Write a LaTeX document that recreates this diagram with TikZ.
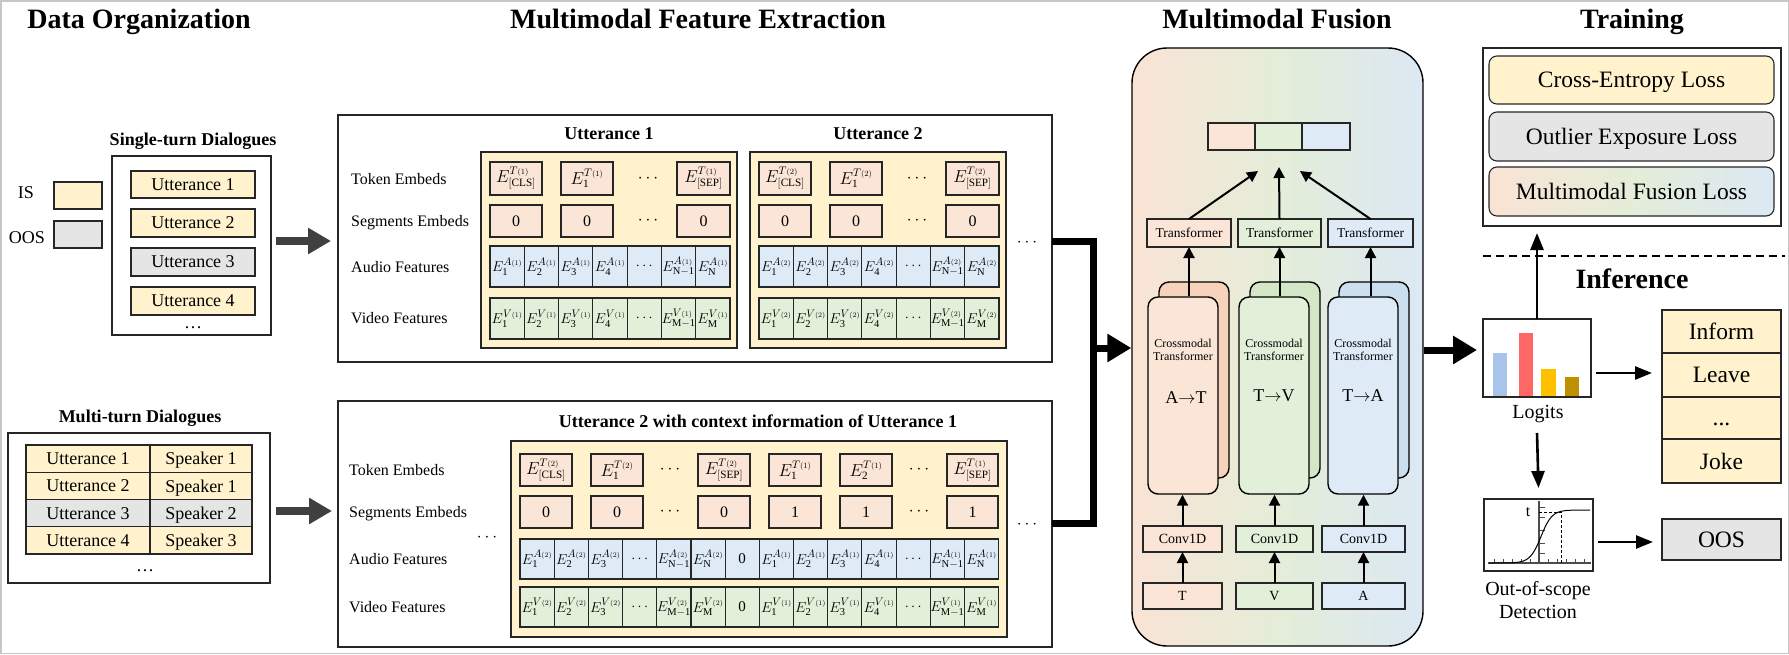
\documentclass[tikz,border=0pt]{standalone}
\usepackage{fontspec}
\setmainfont{Liberation Serif}
\usetikzlibrary{arrows.meta,calc}
\definecolor{cyel}{HTML}{FFF2CC}
\definecolor{cgray}{HTML}{E5E5E5}
\definecolor{cpeach}{HTML}{FBE5D6}
\definecolor{cblue}{HTML}{DEEBF7}
\definecolor{cgreen}{HTML}{E2F0D9}
\definecolor{cpeachD}{HTML}{F8D3BC}
\definecolor{cgreenD}{HTML}{D3E7C6}
\definecolor{cblueD}{HTML}{CCDFF1}
\definecolor{fpeach}{HTML}{FAE3D5}
\definecolor{fgreen}{HTML}{E3EDD8}
\definecolor{fblue}{HTML}{DCE8F3}
\definecolor{cline}{HTML}{262626}
\definecolor{carrow}{HTML}{404040}
\definecolor{barblue}{HTML}{A9C4EB}
\definecolor{barred}{HTML}{FF6666}
\definecolor{baryel}{HTML}{FFC000}
\definecolor{barbrown}{HTML}{BF9000}

\newcommand{\rbx}[7]{\node[#6,minimum width={((#4)-(#2))*1pt},minimum height={((#5)-(#3))*1pt}] (#1) at ({((#2)+(#4))/2},{((#3)+(#5))/2}) {#7};}
\newcommand{\Ec}[3]{$E^{#1\scriptscriptstyle(#2)}_{\mathrm{#3}}$}

\newcommand{\toppanel}[3]{%
\rbx{#1}{481+#2}{152}{737+#2}{348}{bx,line width=1.3pt,fill=cyel}{}
\node[sttl] (#1t) at (609+#2,139) {Utterance #3};
\rbx{#1k1}{490+#2}{162}{542+#2}{195}{tok}{\Ec{T}{#3}{[CLS]}}
\rbx{#1k2}{561+#2}{162}{613+#2}{195}{tok}{\Ec{T}{#3}{1}}
\node[f16] (#1kd) at (648+#2,178.5) {$\cdots$};
\rbx{#1k3}{677+#2}{162}{730+#2}{195}{tok}{\Ec{T}{#3}{[SEP]}}
\rbx{#1s1}{490+#2}{205}{542+#2}{237}{tok}{0}
\rbx{#1s2}{561+#2}{205}{613+#2}{237}{tok}{0}
\node[f16] (#1sd) at (648+#2,221) {$\cdots$};
\rbx{#1s3}{677+#2}{205}{730+#2}{237}{tok}{0}
\foreach \c [count=\i from 0] in {\Ec{A}{#3}{1},\Ec{A}{#3}{2},\Ec{A}{#3}{3},\Ec{A}{#3}{4},$\cdots$,\Ec{A}{#3}{N-1},\Ec{A}{#3}{N}}
 {\rbx{#1a\i}{490+#2+34.29*\i}{246}{524.29+#2+34.29*\i}{287}{cel,fill=cblue}{\c}}
\foreach \c [count=\i from 0] in {\Ec{V}{#3}{1},\Ec{V}{#3}{2},\Ec{V}{#3}{3},\Ec{V}{#3}{4},$\cdots$,\Ec{V}{#3}{M-1},\Ec{V}{#3}{M}}
 {\rbx{#1v\i}{490+#2+34.29*\i}{298}{524.29+#2+34.29*\i}{339}{cel,fill=cgreen}{\c}}
}

\begin{document}
\begin{tikzpicture}[x=1pt,y=-1pt,
  bx/.style={draw=cline,line width=1.1pt,inner sep=0pt,outer sep=0pt},
  f12/.style={font=\fontsize{12}{13.5}\selectfont},
  f13/.style={font=\fontsize{13.5}{16}\selectfont},
  f14/.style={font=\fontsize{14}{17}\selectfont},
  f15/.style={font=\fontsize{15}{18}\selectfont},
  f16/.style={font=\fontsize{16}{19}\selectfont},
  f18/.style={font=\fontsize{18}{21}\selectfont},
  f20/.style={font=\fontsize{20}{24}\selectfont},
  f23/.style={font=\fontsize{23.5}{28}\selectfont},
  ttl/.style={font=\fontsize{28}{32}\selectfont\bfseries,anchor=base,inner sep=0pt},
  sttl/.style={font=\fontsize{18}{21}\selectfont\bfseries,anchor=base,inner sep=0pt},
  lbl/.style={anchor=base,inner sep=0pt},
  rowl/.style={f16,text depth=0pt,anchor=west,inner sep=0pt},
  tok/.style={bx,fill=cpeach,f16},
  cel/.style={bx,f15},
  ut/.style={bx,f18,text depth=0pt},
  loss/.style={draw=cline,line width=1.1pt,rounded corners=8pt,inner sep=0pt,f23,text depth=0pt},
  card/.style={draw=black,line width=1.4pt,rounded corners=10pt,inner sep=0pt},
  farr/.style={line width=2pt,-{Triangle[length=11pt,width=11pt]}},
  rarr/.style={line width=2.6pt,-{Triangle[length=17pt,width=13pt]}},
  garr/.style={line width=8pt,draw=carrow,-{Triangle[length=23pt,width=25pt]}},
  barr/.style={line width=7pt,-{Triangle[length=24pt,width=27pt]}},
]
\useasboundingbox (0,0) rectangle (1789,654);
\draw[draw=black!22,line width=1.5pt] (0.75,0.75) rectangle (1788.25,653.25);

% titles
\node[ttl] (tDO) at (139,28) {Data Organization};
\node[ttl] (tMFE) at (698,28) {Multimodal Feature Extraction};
\node[ttl] (tMF) at (1277,28) {Multimodal Fusion};
\node[ttl] (tTR) at (1632,28) {Training};
\node[ttl] (tIN) at (1632,288) {Inference};

% ---------- Data organization ----------
\node[sttl] (tST) at (193,145) {Single-turn Dialogues};
\rbx{st}{112}{156}{271}{335}{bx,line width=1.3pt}{}
\rbx{su1}{131}{171}{255}{198}{ut,fill=cyel}{Utterance 1}
\rbx{su2}{131}{209}{255}{237}{ut,fill=cyel}{Utterance 2}
\rbx{su3}{131}{248}{255}{276}{ut,fill=cgray}{Utterance 3}
\rbx{su4}{131}{287}{255}{315}{ut,fill=cyel}{Utterance 4}
\node[lbl,f18] (sdots) at (193,328) {\ldots};
\node[f18,text depth=0pt] (isl) at (26,193) {IS};
\rbx{isb}{54}{182}{102}{209}{bx,fill=cyel}{}
\node[f18,text depth=0pt] (oosl) at (27,238) {OOS};
\rbx{oosb}{54}{221}{102}{248}{bx,fill=cgray}{}

\node[sttl] (tMT) at (140,422) {Multi-turn Dialogues};
\rbx{mt}{8}{433}{270}{583}{bx,line width=1.3pt}{}
\rbx{mu1}{26}{445}{150}{472.25}{ut,fill=cyel}{Utterance 1}
\rbx{ms1}{150}{445}{252}{472.25}{ut,fill=cyel}{Speaker 1}
\rbx{mu2}{26}{472.25}{150}{499.5}{ut,fill=cyel}{Utterance 2}
\rbx{ms2}{150}{472.25}{252}{499.5}{ut,fill=cyel}{Speaker 1}
\rbx{mu3}{26}{499.5}{150}{526.75}{ut,fill=cgray}{Utterance 3}
\rbx{ms3}{150}{499.5}{252}{526.75}{ut,fill=cgray}{Speaker 2}
\rbx{mu4}{26}{526.75}{150}{554}{ut,fill=cyel}{Utterance 4}
\rbx{ms4}{150}{526.75}{252}{554}{ut,fill=cyel}{Speaker 3}
\node[lbl,f18] (mdots) at (145,571) {\ldots};

% ---------- Feature extraction: top ----------
\rbx{topbox}{338}{115}{1052}{362}{bx,line width=1.4pt}{}
\node[rowl] (lt1) at (351,179) {Token Embeds};
\node[rowl] (lt2) at (351,221) {Segments Embeds};
\node[rowl] (lt3) at (351,267) {Audio Features};
\node[rowl] (lt4) at (351,318) {Video Features};
\toppanel{pa}{0}{1}
\toppanel{pb}{269}{2}
\node[f16] (tdots) at (1027,243) {$\cdots$};

% ---------- Feature extraction: bottom ----------
\rbx{botbox}{338}{401}{1052}{647}{bx,line width=1.4pt}{}
\node[sttl] (tB) at (758,427) {Utterance 2 with context information of Utterance 1};
\node[rowl] (lb1) at (349,470) {Token Embeds};
\node[rowl] (lb2) at (349,512) {Segments Embeds};
\node[rowl] (lb3) at (349,559) {Audio Features};
\node[rowl] (lb4) at (349,607) {Video Features};
\node[f16] (ldots) at (487,538) {$\cdots$};
\rbx{bp}{511}{441}{1007}{637}{bx,line width=1.3pt,fill=cyel}{}
\rbx{bk1}{520}{454}{572}{486}{tok}{\Ec{T}{2}{[CLS]}}
\rbx{bk2}{591}{454}{643}{486}{tok}{\Ec{T}{2}{1}}
\node[f16] (bkd1) at (670,470) {$\cdots$};
\rbx{bk3}{698}{454}{750}{486}{tok}{\Ec{T}{2}{[SEP]}}
\rbx{bk4}{769}{454}{821}{486}{tok}{\Ec{T}{1}{1}}
\rbx{bk5}{840}{454}{892}{486}{tok}{\Ec{T}{1}{2}}
\node[f16] (bkd2) at (919,470) {$\cdots$};
\rbx{bk6}{947}{454}{998}{486}{tok}{\Ec{T}{1}{[SEP]}}
\rbx{bs1}{520}{496}{572}{528}{tok}{0}
\rbx{bs2}{591}{496}{643}{528}{tok}{0}
\node[f16] (bsd1) at (670,512) {$\cdots$};
\rbx{bs3}{698}{496}{750}{528}{tok}{0}
\rbx{bs4}{769}{496}{821}{528}{tok}{1}
\rbx{bs5}{840}{496}{892}{528}{tok}{1}
\node[f16] (bsd2) at (919,512) {$\cdots$};
\rbx{bs6}{947}{496}{998}{528}{tok}{1}
\foreach \c [count=\i from 0] in {\Ec{A}{2}{1},\Ec{A}{2}{2},\Ec{A}{2}{3},$\cdots$,\Ec{A}{2}{N-1},\Ec{A}{2}{N},0,\Ec{A}{1}{1},\Ec{A}{1}{2},\Ec{A}{1}{3},\Ec{A}{1}{4},$\cdots$,\Ec{A}{1}{N-1},\Ec{A}{1}{N}}
 {\rbx{ba\i}{520+34.19*\i}{539}{554.19+34.19*\i}{579}{cel,fill=cblue}{\c}}
\foreach \c [count=\i from 0] in {\Ec{V}{2}{1},\Ec{V}{2}{2},\Ec{V}{2}{3},$\cdots$,\Ec{V}{2}{M-1},\Ec{V}{2}{M},0,\Ec{V}{1}{1},\Ec{V}{1}{2},\Ec{V}{1}{3},\Ec{V}{1}{4},$\cdots$,\Ec{V}{1}{M-1},\Ec{V}{1}{M}}
 {\rbx{bv\i}{520+34.19*\i}{587}{554.19+34.19*\i}{627}{cel,fill=cgreen}{\c}}
\node[f16] (bdots) at (1027,525) {$\cdots$};

% gray arrows
\coordinate (ga1) at (0,241);
\coordinate (ga2) at (0,511);
\draw[garr] ([xshift=5pt]st.east |- ga1) -- ([xshift=-7pt]topbox.west |- ga1);
\draw[garr] ([xshift=6pt]mt.east |- ga2) -- ([xshift=-6pt]botbox.west |- ga2);

% ---------- Multimodal fusion ----------
\rbx{fus}{1132}{48}{1423}{646}{draw=black,line width=1.4pt,rounded corners=35pt,left color=fpeach,right color=fblue,middle color=fgreen,inner sep=0pt}{}
\coordinate (mt1) at (1093,241);
\coordinate (mb1) at (1093,523);
\coordinate (mj) at (1093,348);
\draw[line width=7pt,line join=miter] (topbox.east |- mt1) -- (mt1) -- (mb1) -- (botbox.east |- mb1);
\draw[barr] (mj) -- (fus.west |- mj);

\rbx{cb1}{1208}{123}{1255}{150}{bx,fill=cpeach}{}
\rbx{cb2}{1255}{123}{1302}{150}{bx,fill=cgreen}{}
\rbx{cb3}{1302}{123}{1350}{150}{bx,fill=cblue}{}
\coordinate (tipL) at (1258,171);
\coordinate (tipM) at (1279,167);
\coordinate (tipR) at (1300,171);

\rbx{tf1}{1147}{219}{1231}{247}{bx,fill=cpeach,f13}{Transformer}
\rbx{tf2}{1238}{219}{1321}{247}{bx,fill=cgreen,f13}{Transformer}
\rbx{tf3}{1328}{219}{1413}{247}{bx,fill=cblue,f13}{Transformer}
\draw[farr] (tf1.north) -- (tipL);
\draw[farr] (tf2.north) -- (tipM);
\draw[farr] (tf3.north) -- (tipR);

\rbx{bk1c}{1159}{282}{1229}{478}{card,fill=cpeachD}{}
\rbx{bk2c}{1250}{282}{1320}{478}{card,fill=cgreenD}{}
\rbx{bk3c}{1339}{282}{1409}{478}{card,fill=cblueD}{}
\rbx{cm1}{1148}{297}{1218}{494}{card,fill=cpeach}{}
\rbx{cm2}{1239}{297}{1309}{494}{card,fill=cgreen}{}
\rbx{cm3}{1328}{297}{1398}{494}{card,fill=cblue}{}
\node[f12,align=center,inner sep=0pt] (cm1t) at (1183,350) {Crossmodal\\Transformer};
\node[f12,align=center,inner sep=0pt] (cm2t) at (1274,350) {Crossmodal\\Transformer};
\node[f12,align=center,inner sep=0pt] (cm3t) at (1363,350) {Crossmodal\\Transformer};
\node[f18,inner sep=0pt] (cm1a) at (1186,398) {A$\rightarrow$T};
\node[f18,inner sep=0pt] (cm2a) at (1274,396) {T$\rightarrow$V};
\node[f18,inner sep=0pt] (cm3a) at (1363,396) {T$\rightarrow$A};
\draw[farr] (tf1.south |- cm1.north) -- (tf1.south);
\draw[farr] (tf2.south |- cm2.north) -- (tf2.south);
\draw[farr] (tf3.south |- cm3.north) -- (tf3.south);

\rbx{cv1}{1143}{526}{1222}{552}{bx,fill=cpeach,f14}{Conv1D}
\rbx{cv2}{1236}{526}{1313}{552}{bx,fill=cgreen,f14}{Conv1D}
\rbx{cv3}{1322}{526}{1405}{552}{bx,fill=cblue,f14}{Conv1D}
\rbx{in1}{1143}{583}{1222}{609}{bx,fill=cpeach,f14}{T}
\rbx{in2}{1236}{583}{1313}{609}{bx,fill=cgreen,f14}{V}
\rbx{in3}{1322}{583}{1405}{609}{bx,fill=cblue,f14}{A}
\draw[farr] (cv1.north) -- (cv1.north |- cm1.south);
\draw[farr] (cv2.north) -- (cv2.north |- cm2.south);
\draw[farr] (cv3.north) -- (cv3.north |- cm3.south);
\draw[farr] (in1) -- (cv1);
\draw[farr] (in2) -- (cv2);
\draw[farr] (in3) -- (cv3);

% ---------- Training ----------
\rbx{train}{1483}{48}{1781}{226}{bx,line width=1.4pt}{}
\rbx{ce}{1489}{56}{1774}{104}{loss,fill=cyel}{Cross-Entropy Loss}
\rbx{oe}{1489}{112}{1774}{161}{loss,fill=cgray}{Outlier Exposure Loss}
\rbx{mfl}{1489}{167}{1774}{216}{loss,left color=fpeach,right color=fblue,middle color=fgreen}{Multimodal Fusion Loss}
\coordinate (dl1) at (1483,256);
\coordinate (dl2) at (1785,256);
\draw[line width=1.5pt,dash pattern=on 8pt off 5pt] (dl1) -- (dl2);

% ---------- Inference ----------
\rbx{logit}{1483}{319}{1591}{397}{bx,line width=1.4pt}{}
\fill[barblue] (1493,353) rectangle (1507,396);
\fill[barred] (1519,333) rectangle (1533,396);
\fill[baryel] (1541,369) rectangle (1556,396);
\fill[barbrown] (1565,377) rectangle (1579,396);
\node[lbl,f20] (logitl) at (1538,418) {Logits};
\coordinate (fl) at (1450,350);
\draw[barr] (fus.east |- fl) -- ([xshift=-6pt]logit.west |- fl);
\draw[rarr] (logit.north) -- ([yshift=-7pt]train.south -| logit.north);

\rbx{int1}{1662}{310}{1781}{353}{bx,fill=cyel,f23,text depth=0pt}{Inform}
\rbx{int2}{1662}{353}{1781}{397}{bx,fill=cyel,f23,text depth=0pt}{Leave}
\rbx{int3}{1662}{397}{1781}{439}{bx,fill=cyel,f23,text depth=0pt}{\vphantom{I}...}
\rbx{int4}{1662}{439}{1781}{483}{bx,fill=cyel,f23,text depth=0pt}{Joke}
\coordinate (ia) at (0,373);
\draw[rarr] ([xshift=5pt]logit.east |- ia) -- ([xshift=-10pt]int2.west |- ia);

\rbx{ood}{1484}{499}{1593}{571}{bx,line width=1.4pt}{}
\draw[line width=1.1pt,black!70] (1488,563) -- (1591,563);
\draw[line width=1.1pt,black!70] (1539,501) -- (1539,563);
\foreach \t in {1494,1503,1512,1521,1530,1548,1557,1566,1575,1584}
  \draw[line width=0.8pt,black!70] (\t,563) -- (\t,559);
\foreach \t in {507,517,530,543,553}
  \draw[line width=0.8pt,black!70] (1539,\t) -- (1545,\t);
\draw[line width=1pt,domain=1489:1590,samples=80,smooth] plot (\x,{563-53/(1+exp(-(\x-1541)/5.5))});
\draw[line width=0.9pt,dash pattern=on 3pt off 2pt] (1539,512) -- (1561,512) -- (1561,563);
\node[f16,inner sep=0pt] (tlab) at (1528,512) {t};
\node[lbl,f20] (oodl1) at (1538,595) {Out-of-scope};
\node[lbl,f20] (oodl2) at (1538,618) {Detection};
\draw[rarr] ([yshift=-36pt]logit.south) -- ([yshift=11pt]ood.north);

\rbx{oos}{1662}{519}{1781}{560}{bx,fill=cgray,f23,text depth=0pt}{OOS}
\coordinate (oa) at (0,542);
\draw[rarr] ([xshift=5pt]ood.east |- oa) -- ([xshift=-9pt]oos.west |- oa);
\end{tikzpicture}
\end{document}
